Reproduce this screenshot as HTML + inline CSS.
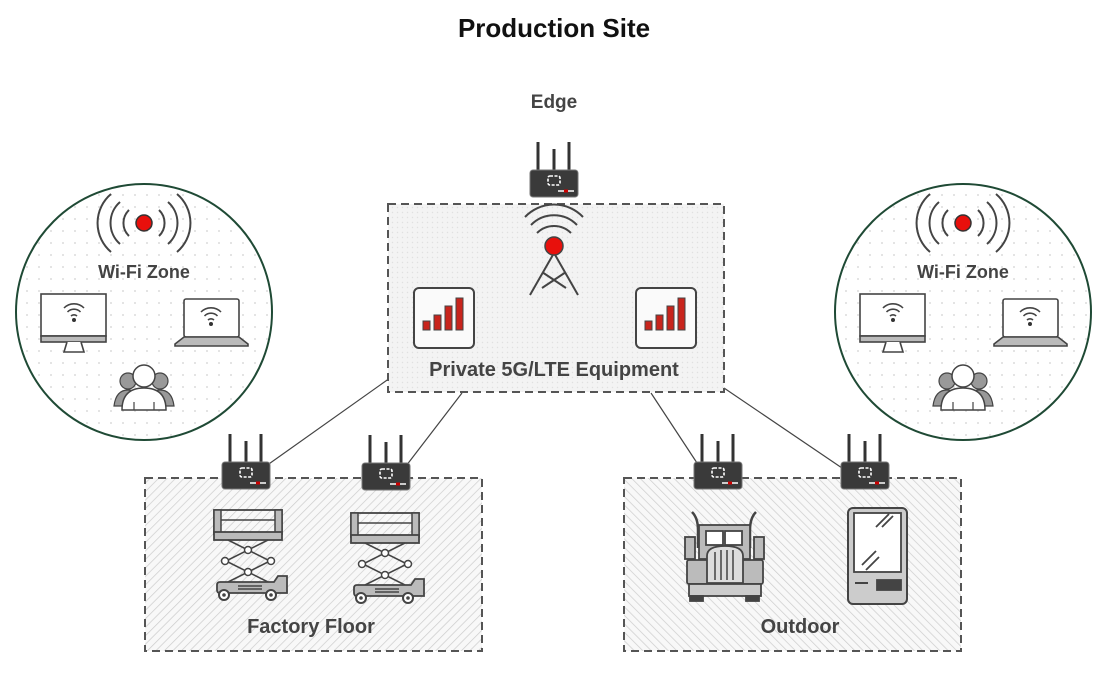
<!DOCTYPE html>
<html><head><meta charset="utf-8"><style>
html,body{margin:0;padding:0;background:#fff;}
svg{display:block;font-family:"Liberation Sans",Arial,sans-serif;}
</style></head><body>
<svg width="1119" height="674" viewBox="0 0 1119 674" xmlns="http://www.w3.org/2000/svg">
<defs>
<pattern id="dots" width="12" height="12" patternUnits="userSpaceOnUse"><circle cx="3" cy="3" r="0.9" fill="#d0d0d0"/></pattern>
<pattern id="hatch" width="6" height="6" patternUnits="userSpaceOnUse" patternTransform="rotate(45)"><rect width="6" height="6" fill="#f8f8f8"/><line x1="0" y1="0" x2="0" y2="6" stroke="#cccccc" stroke-width="1.4"/></pattern>
<pattern id="hatch2" width="6" height="6" patternUnits="userSpaceOnUse" patternTransform="rotate(-45)"><rect width="6" height="6" fill="#f8f8f8"/><line x1="0" y1="0" x2="0" y2="6" stroke="#cccccc" stroke-width="1.4"/></pattern>
<pattern id="cross" width="5" height="5" patternUnits="userSpaceOnUse"><rect width="5" height="5" fill="#f3f3f3"/><circle cx="2.5" cy="2.5" r="0.7" fill="#e0e0e0"/></pattern>
<g id="router">
  <line x1="-16" y1="-4" x2="-16" y2="-32" stroke="#333" stroke-width="3"/>
  <line x1="0" y1="-4" x2="0" y2="-25" stroke="#333" stroke-width="3"/>
  <line x1="15" y1="-4" x2="15" y2="-32" stroke="#333" stroke-width="3"/>
  <rect x="-24" y="-4" width="48" height="27" rx="3" fill="#3a3a3a" stroke="#777" stroke-width="1"/>
  <rect x="-6" y="2" width="12" height="9" rx="2" fill="none" stroke="#fff" stroke-width="1.6" stroke-dasharray="3 1.5"/>
  <rect x="4" y="16" width="16" height="2" fill="#ccc"/>
  <rect x="10" y="15.5" width="4" height="3" fill="#c00"/>
</g>
<g id="signal">
  <rect x="0" y="0" width="60" height="60" rx="5" fill="#fafafa" stroke="#444" stroke-width="2"/>
  <rect x="9" y="33" width="7" height="9" fill="#c8241c" stroke="#444" stroke-width="1"/>
  <rect x="20" y="27" width="7" height="15" fill="#c8241c" stroke="#444" stroke-width="1"/>
  <rect x="31" y="18" width="7" height="24" fill="#c8241c" stroke="#444" stroke-width="1"/>
  <rect x="42" y="10" width="7" height="32" fill="#c8241c" stroke="#444" stroke-width="1"/>
</g>
<g id="wifi">
  <path d="M-10,-2 A14,14 0 0 1 10,-2 M-6.5,2 A9,9 0 0 1 6.5,2 M-3,6 A4.5,4.5 0 0 1 3,6" fill="none" stroke="#444" stroke-width="1.6"/>
  <circle cx="0" cy="10" r="2" fill="#333"/>
</g>
<g id="zone">
  <circle cx="0" cy="0" r="128" fill="#fff" stroke="#1f4a35" stroke-width="2"/>
  <circle cx="0" cy="0" r="127" fill="url(#dots)"/>
  <circle cx="0" cy="-89" r="8" fill="#e8100c" stroke="#333" stroke-width="1.5"/>
  <path d="M-15,-102 A18,18 0 0 0 -15,-76 M15,-102 A18,18 0 0 1 15,-76 M-24,-110 A28,28 0 0 0 -24,-68 M24,-110 A28,28 0 0 1 24,-68 M-33,-118 A38,38 0 0 0 -33,-60 M33,-118 A38,38 0 0 1 33,-60" fill="none" stroke="#444" stroke-width="2"/>
  <text x="0" y="-34" text-anchor="middle" font-size="18" font-weight="bold" fill="#444">Wi-Fi Zone</text>
  <rect x="-103" y="-18" width="65" height="42" fill="#fff" stroke="#444" stroke-width="1.6"/>
  <rect x="-103" y="24" width="65" height="6" fill="#bbb" stroke="#444" stroke-width="1.6"/>
  <path d="M-77,30 L-80,40 L-60,40 L-63,30" fill="#fff" stroke="#444" stroke-width="1.6"/>
  <use href="#wifi" transform="translate(-70,-2)"/>
  <rect x="40" y="-13" width="55" height="38" rx="2" fill="#fff" stroke="#444" stroke-width="1.6"/>
  <path d="M40,25 L95,25 L104,32 L104,34 L31,34 L31,32 Z" fill="#bbb" stroke="#444" stroke-width="1.6"/>
  <use href="#wifi" transform="translate(67,2)"/>
  <circle cx="-16" cy="69" r="8" fill="#999" stroke="#444" stroke-width="1.2"/>
  <circle cx="16" cy="69" r="8" fill="#999" stroke="#444" stroke-width="1.2"/>
  <path d="M-30,94 Q-28,78 -16,78 Q-4,78 -2,94 Z M2,94 Q4,78 16,78 Q28,78 30,94 Z" fill="#999" stroke="#444" stroke-width="1.2"/>
  <circle cx="0" cy="64" r="11" fill="#fff" stroke="#444" stroke-width="1.5"/>
  <path d="M-22,98 Q-22,76 0,76 Q22,76 22,98 Z" fill="#fff" stroke="#444" stroke-width="1.5"/>
  <path d="M-10,98 L-10,90 M10,98 L10,90" stroke="#444" stroke-width="1.2"/>
</g>
<g id="lift">
  <rect x="-34" y="0" width="68" height="24" fill="none" stroke="#444" stroke-width="1.8"/>
  <rect x="-34" y="0" width="7" height="24" fill="#bbb" stroke="#444" stroke-width="1.5"/>
  <rect x="27" y="0" width="7" height="24" fill="#bbb" stroke="#444" stroke-width="1.5"/>
  <line x1="-27" y1="10" x2="27" y2="10" stroke="#444" stroke-width="1.5"/>
  <rect x="-34" y="22" width="68" height="8" fill="#bbb" stroke="#444" stroke-width="1.8"/>
  <path d="M-20,30 L22,51 L-20,72 M20,30 L-22,51 L20,72" fill="none" stroke="#444" stroke-width="1.6"/>
  <circle cx="0" cy="40" r="3.5" fill="#fff" stroke="#444" stroke-width="1.5"/>
  <circle cx="-23" cy="51" r="3.5" fill="#fff" stroke="#444" stroke-width="1.5"/>
  <circle cx="23" cy="51" r="3.5" fill="#fff" stroke="#444" stroke-width="1.5"/>
  <circle cx="0" cy="62" r="3.5" fill="#fff" stroke="#444" stroke-width="1.5"/>
  <path d="M-28,72 L26,72 L30,66 L39,66 L39,83 L-28,83 Q-31,83 -31,80 L-31,75 Q-31,72 -28,72 Z" fill="#bbb" stroke="#444" stroke-width="1.8"/>
  <line x1="-10" y1="76" x2="14" y2="76" stroke="#444" stroke-width="1.5"/>
  <line x1="-10" y1="79" x2="14" y2="79" stroke="#444" stroke-width="1.5"/>
  <circle cx="-24" cy="85" r="5" fill="#fff" stroke="#444" stroke-width="2"/><circle cx="-24" cy="85" r="1.8" fill="#444"/>
  <circle cx="23" cy="85" r="5" fill="#fff" stroke="#444" stroke-width="2"/><circle cx="23" cy="85" r="1.8" fill="#444"/>
</g>
</defs>

<text x="554" y="37" text-anchor="middle" font-size="26" font-weight="bold" fill="#111">Production Site</text>
<text x="554" y="108" text-anchor="middle" font-size="19" font-weight="bold" fill="#444">Edge</text>

<g stroke="#444" stroke-width="1.2">
<line x1="390" y1="378" x2="266" y2="466"/>
<line x1="462" y1="393" x2="406" y2="466"/>
<line x1="651" y1="393" x2="699" y2="466"/>
<line x1="724" y1="388" x2="842" y2="468"/>
</g>

<rect x="388" y="204" width="336" height="188" fill="url(#cross)" stroke="#555" stroke-width="2" stroke-dasharray="8 5"/>
<path d="M537,233 A24,24 0 0 1 571,233 M531,225 A32,32 0 0 1 577,225 M525,217 A40,40 0 0 1 583,217" fill="none" stroke="#444" stroke-width="2"/>
<path d="M554,253 L530,295 M554,253 L578,295 M542,272 L566,288 M566,272 L542,288" stroke="#444" stroke-width="2" fill="none"/>
<circle cx="554" cy="246" r="9" fill="#e8100c" stroke="#444" stroke-width="1.5"/>
<use href="#signal" x="414" y="288"/>
<use href="#signal" x="636" y="288"/>
<text x="554" y="376" text-anchor="middle" font-size="20" font-weight="bold" fill="#444">Private 5G/LTE Equipment</text>
<use href="#router" transform="translate(554,174)"/>

<use href="#zone" transform="translate(144,312)"/>
<use href="#zone" transform="translate(963,312)"/>

<rect x="145" y="478" width="337" height="173" fill="url(#hatch)" stroke="#555" stroke-width="2" stroke-dasharray="8 5"/>
<use href="#lift" transform="translate(248,510)"/>
<use href="#lift" transform="translate(385,513)"/>
<text x="311" y="633" text-anchor="middle" font-size="20" font-weight="bold" fill="#444">Factory Floor</text>
<use href="#router" transform="translate(246,466)"/>
<use href="#router" transform="translate(386,467)"/>

<rect x="624" y="478" width="337" height="173" fill="url(#hatch2)" stroke="#555" stroke-width="2" stroke-dasharray="8 5"/>
<g stroke="#444" stroke-width="1.8">
  <path d="M692,512 Q698,518 698,530 L698,548 M756,512 Q750,518 750,530 L750,548" fill="none" stroke-width="2.5"/>
  <rect x="699" y="525" width="51" height="34" fill="#bbb"/>
  <rect x="706" y="531" width="17" height="14" fill="#fff"/>
  <rect x="725" y="531" width="17" height="14" fill="#fff"/>
  <rect x="685" y="537" width="10" height="22" fill="#bbb"/>
  <rect x="754" y="537" width="10" height="22" fill="#bbb"/>
  <rect x="687" y="560" width="76" height="24" rx="2" fill="#bbb"/>
  <path d="M707,583 L707,556 Q707,546 725,546 Q743,546 743,556 L743,583 Z" fill="#ddd"/>
  <path d="M715,552 V580 M721,550 V580 M727,550 V580 M733,550 V580" fill="none" stroke-width="1.5"/>
  <rect x="689" y="584" width="72" height="12" fill="#ccc"/>
  <rect x="690" y="596" width="13" height="5" fill="#444"/>
  <rect x="746" y="596" width="13" height="5" fill="#444"/>
  <rect x="848" y="508" width="59" height="96" rx="5" fill="#ccc" stroke-width="2"/>
  <rect x="854" y="513" width="47" height="59" fill="#fff"/>
  <path d="M876,527 L889,514 M882,527 L893,516 M862,565 L876,551 M866,570 L879,557" fill="none"/>
  <line x1="855" y1="583" x2="868" y2="583" stroke-width="2"/>
  <rect x="877" y="580" width="24" height="10" fill="#444"/>
</g>
<text x="800" y="633" text-anchor="middle" font-size="20" font-weight="bold" fill="#444">Outdoor</text>
<use href="#router" transform="translate(718,466)"/>
<use href="#router" transform="translate(865,466)"/>
</svg>
</body></html>
